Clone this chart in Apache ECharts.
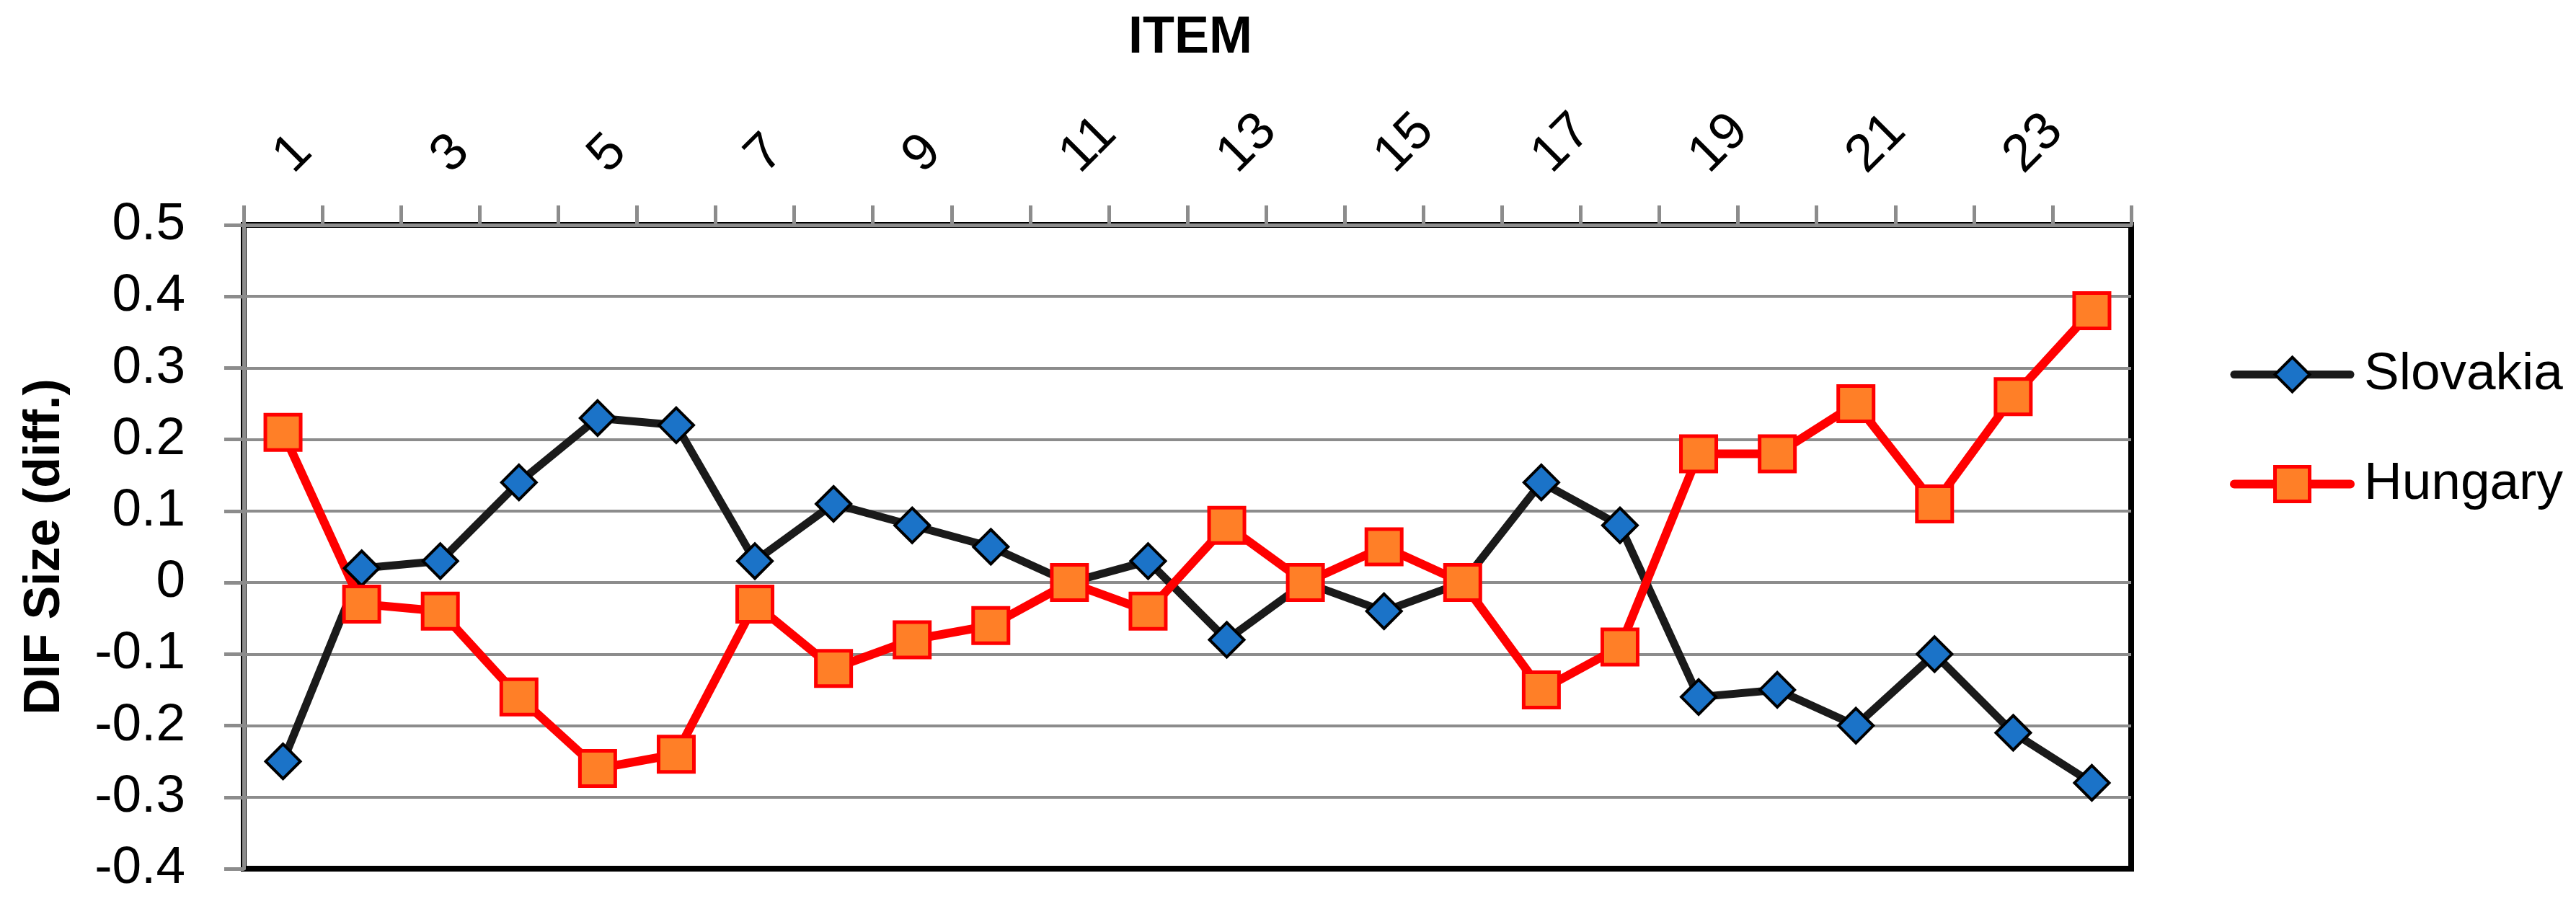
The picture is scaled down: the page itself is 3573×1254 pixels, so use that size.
<!DOCTYPE html>
<html>
<head>
<meta charset="utf-8">
<style>
  html, body { margin: 0; padding: 0; background: #fff; }
  #chart { width: 3573px; height: 1254px; }
</style>
<script src="https://cdn.jsdelivr.net/npm/echarts@6/dist/echarts.min.js"></script>
</head>
<body>
<div id="chart"></div>
<script>
const items = ['1','2','3','4','5','6','7','8','9','10','11','12','13','14','15','16','17','18','19','20','21','22','23','24'];
const slovakia = [-0.25, 0.02, 0.03, 0.14, 0.23, 0.22, 0.03, 0.11, 0.08, 0.05, 0.00, 0.03, -0.08, 0.00, -0.04, 0.00, 0.14, 0.08, -0.16, -0.15, -0.20, -0.10, -0.21, -0.28];
const hungary = [0.21, -0.03, -0.04, -0.16, -0.26, -0.24, -0.03, -0.12, -0.08, -0.06, 0.00, -0.04, 0.08, 0.00, 0.05, 0.00, -0.15, -0.09, 0.18, 0.18, 0.25, 0.11, 0.26, 0.38];
const yMin = -0.4, yMax = 0.5, yStep = 0.1;

const FONT = "'Liberation Sans', Arial, sans-serif";
const GRAY = '#8c8c8c';

const chart = echarts.init(document.getElementById('chart'), null, { renderer: 'canvas' });
chart.setOption({
  animation: false,
  backgroundColor: '#ffffff',
  title: {
    text: 'ITEM',
    left: 1646,
    top: 12,
    textAlign: 'center',
    textStyle: { fontFamily: FONT, fontSize: 72, fontWeight: 'bold', color: '#000' }
  },
  legend: {
    orient: 'vertical',
    left: 3093,
    top: 483,
    padding: 0,
    itemWidth: 161,
    itemHeight: 60,
    itemGap: 79,
    lineStyle: { cap: 'round', width: 11 },
    textStyle: { fontFamily: FONT, fontSize: 73, color: '#000', padding: [0, 0, 0, 14] },
    data: [
      { name: 'Slovakia', itemStyle: { borderWidth: 4, borderColor: '#000000' }, lineStyle: { width: 11, color: '#1a1a1a', cap: 'round' } },
      { name: 'Hungary', itemStyle: { borderWidth: 5, borderColor: '#ff0000' }, lineStyle: { width: 12, color: '#ff0000', cap: 'round' } }
    ]
  },
  grid: {
    left: 338,
    right: 617,
    top: 312,
    bottom: 49,
    show: true,
    borderColor: '#000',
    borderWidth: 8,
    backgroundColor: 'transparent'
  },
  xAxis: {
    type: 'category',
    data: items,
    position: 'top',
    boundaryGap: true,
    axisLine: { show: true, onZero: false, lineStyle: { color: GRAY, width: 5 } },
    axisTick: { show: true, interval: 0, length: 27, inside: false, lineStyle: { color: GRAY, width: 5 } },
    axisLabel: { interval: 1, rotate: -45, margin: 84, fontFamily: FONT, fontSize: 73, color: '#000' },
    splitLine: { show: false }
  },
  yAxis: {
    type: 'value',
    min: yMin,
    max: yMax,
    interval: yStep,
    name: 'DIF Size (diff.)',
    nameLocation: 'middle',
    nameGap: 240,
    nameTextStyle: { fontFamily: FONT, fontSize: 70, fontWeight: 'bold', color: '#000' },
    axisLine: { show: true, onZero: false, lineStyle: { color: GRAY, width: 5 } },
    axisTick: { show: true, length: 27, lineStyle: { color: GRAY, width: 5 } },
    axisLabel: { margin: 81, fontFamily: FONT, fontSize: 73, color: '#000' },
    splitLine: { show: true, showMinLine: false, lineStyle: { color: GRAY, width: 4 } }
  },
  series: [
    {
      name: 'Slovakia',
      type: 'line',
      data: slovakia,
      symbol: 'diamond',
      symbolSize: 48,
      showAllSymbol: true,
      lineStyle: { color: '#1a1a1a', width: 11 },
      itemStyle: { color: '#1b73c8', borderColor: '#000000', borderWidth: 4 },
      emphasis: { disabled: true }
    },
    {
      name: 'Hungary',
      type: 'line',
      data: hungary,
      symbol: 'rect',
      symbolSize: 49,
      showAllSymbol: true,
      lineStyle: { color: '#ff0000', width: 12 },
      itemStyle: { color: '#ff7f27', borderColor: '#ff0000', borderWidth: 5 },
      emphasis: { disabled: true }
    }
  ]
});
</script>
</body>
</html>
